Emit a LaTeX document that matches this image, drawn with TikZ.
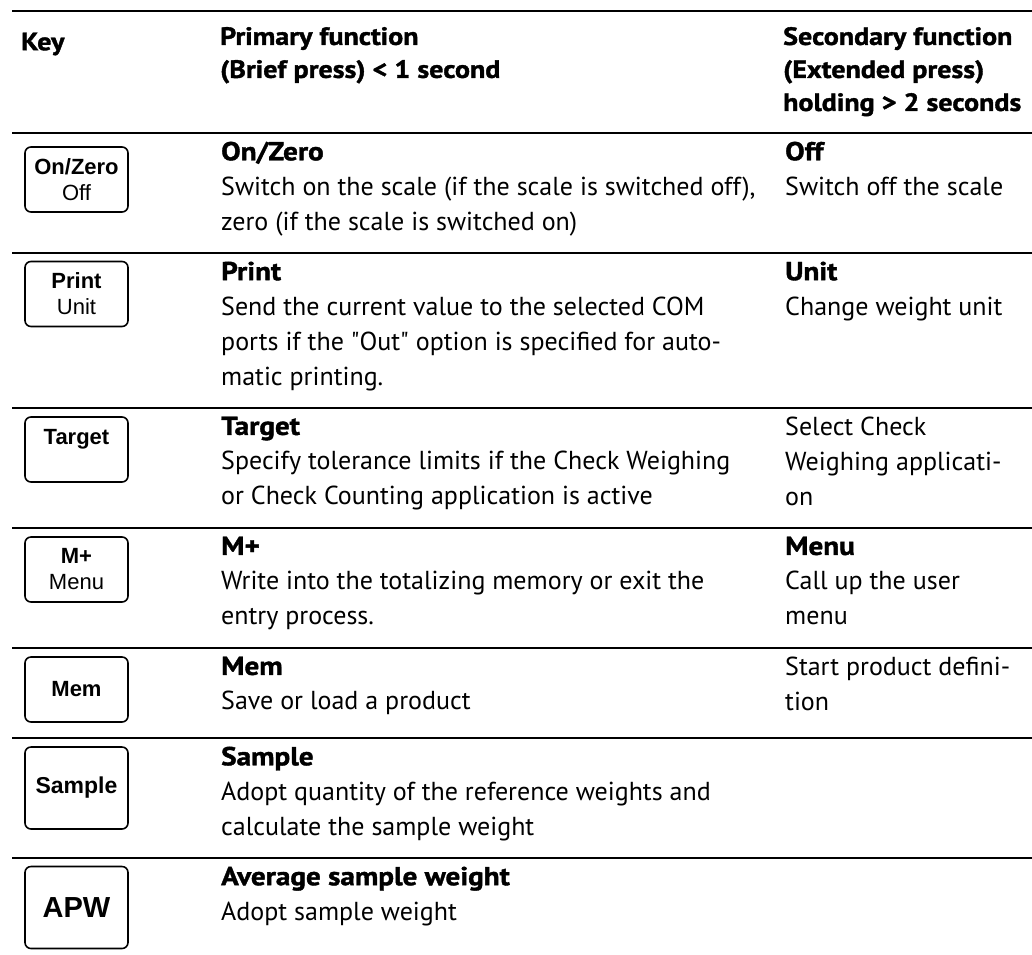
\documentclass[tikz,border=0pt]{standalone}
\usepackage{fontspec}
\setmainfont{PT Sans}[BoldFeatures={FakeStretch=1.12,FakeBold=1.5}]
\newfontfamily\keyfont{Liberation Sans}
\newcommand{\dq}{\XeTeXglyph\XeTeXcharglyph"22\relax}
\tikzset{
  keybox/.style={draw, line width=1.6pt, rounded corners=6pt, minimum width=103pt,
    minimum height=65pt, align=center, inner sep=0pt,
    font=\keyfont\fontsize{22}{26}\selectfont},
  headcell/.style={anchor=north west, yshift=23.1pt, align=left, inner sep=0pt,
    font=\bfseries\fontsize{25}{33}\selectfont, execute at begin node={\rule{0pt}{23.1pt}}},
  cell/.style={anchor=north west, yshift=24.5pt, align=left, inner sep=0pt,
    font=\fontsize{26}{35}\selectfont, execute at begin node={\rule{0pt}{24.5pt}}},
  rule/.style={line width=2.5pt}
}
\begin{document}
\begin{tikzpicture}[x=1pt,y=-1pt]
\useasboundingbox (0,0) rectangle (1032,954);
% rules
\draw[rule] (12,11)--(1032,11);
\draw[rule] (12,133)--(1032,133);
\draw[rule] (12,253)--(1032,253);
\draw[rule] (12,408)--(1032,408);
\draw[rule] (12,528)--(1032,528);
\draw[rule] (12,648)--(1032,648);
\draw[rule] (12,738)--(1032,738);
\draw[rule] (12,858)--(1032,858);
% header
\draw (21,50) node[headcell] (hkey) {Key};
\draw (220,50) node[headcell] (hprim) {Primary function\\(Brief press) < 1 second};
\draw (783,50) node[headcell] (hsec) {Secondary function\\(Extended press)\\holding > 2 seconds};
% keys
\draw (76.5,179.5) node[keybox] (kon) {\textbf{On/Zero}\\Off};
\draw (76.5,294) node[keybox] (kprint) {\textbf{Print}\\Unit};
\draw (76.5,449.5) node[keybox] (ktarget) {\textbf{Target}\\\mbox{}};
\draw (76.5,569.5) node[keybox] (kmplus) {\textbf{M+}\\Menu};
\draw (76.5,689.5) node[keybox] (kmem) {\textbf{Mem}};
\draw (76.5,788) node[keybox,minimum height=82pt,font=\keyfont\bfseries\fontsize{23}{26}\selectfont] (ksample) {Sample};
\draw (76.5,907.5) node[keybox,minimum height=82pt,font=\keyfont\bfseries\fontsize{29}{32}\selectfont] (kapw) {APW};
% primary function
\draw (221,166) node[cell] (pon) {\textbf{On/Zero}\\Switch on the scale (if the scale is switched off),\\zero (if the scale is switched on)};
\draw (221,286) node[cell] (pprint) {\textbf{Print}\\Send the current value to the selected COM\\ports if the \dq Out\dq{} option is specified for auto-\\matic printing.};
\draw (221,441) node[cell] (ptarget) {\textbf{Target}\\Specify tolerance limits if the Check Weighing\\or Check Counting application is active};
\draw (221,561) node[cell] (pmplus) {\textbf{M+}\\Write into the totalizing memory or exit the\\entry process.};
\draw (221,681) node[cell] (pmem) {\textbf{Mem}\\Save or load a product};
\draw (221,771) node[cell] (psample) {\textbf{Sample}\\Adopt quantity of the reference weights and\\calculate the sample weight};
\draw (221,891) node[cell] (papw) {\textbf{Average sample weight}\\Adopt sample weight};
% secondary function
\draw (785,166) node[cell] (son) {\textbf{Off}\\Switch off the scale};
\draw (785,286) node[cell] (sprint) {\textbf{Unit}\\Change weight unit};
\draw (785,441) node[cell] (starget) {Select Check\\Weighing applicati-\\on};
\draw (785,561) node[cell] (smplus) {\textbf{Menu}\\Call up the user\\menu};
\draw (785,681) node[cell] (smem) {Start product defini-\\tion};
\end{tikzpicture}
\end{document}
